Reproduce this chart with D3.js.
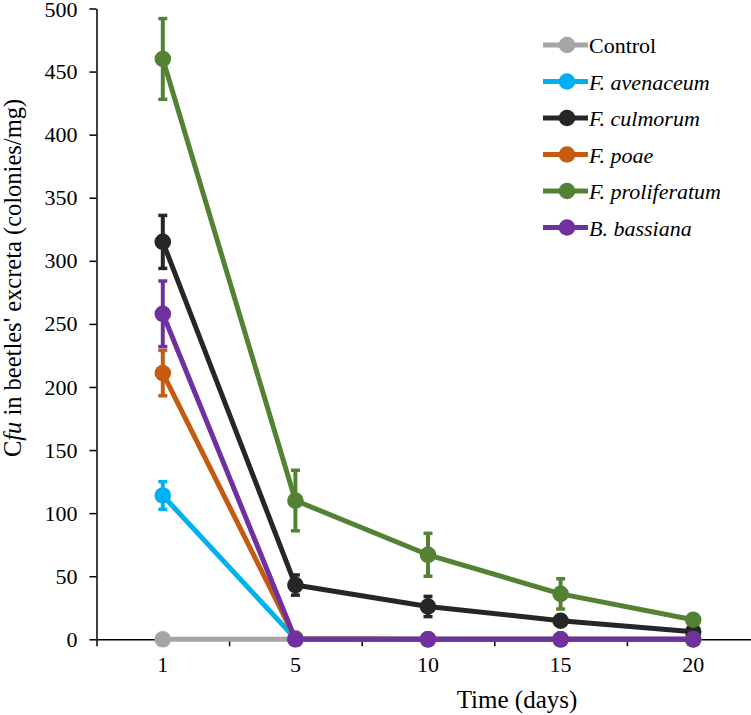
<!DOCTYPE html>
<html>
<head>
<meta charset="utf-8">
<script src="https://cdn.jsdelivr.net/npm/d3@7"></script>
<style>
  body { margin: 0; background: #fff; }
  svg text { font-family: "Liberation Serif", "Times New Roman", Tinos, "DejaVu Serif", serif !important; }
</style>
</head>
<body>
<svg id="chart" width="751" height="715"></svg>
<script>
const days = ['1', '5', '10', '15', '20']

const seriesNames = ['Control', 'F. avenaceum', 'F. culmorum', 'F. poae', 'F. proliferatum', 'B. bassiana']
const seriesItalic = [false, true, true, true, true, true]
const seriesColors = ['#a5a5a5', '#00b0f0', '#262626', '#c55a11', '#548235', '#7030a0']

const control = [0, 0, 0, 0, 0]
const avenaceum = [114, 0.5, 0, 0, 0]
const culmorum = [315, 43, 26, 14.7, 6]
const poae = [211, 0.5, 0, 0, 0]
const proliferatum = [460, 110, 67, 36, 15.5]
const bassiana = [258, 0, 0, 0, 0]

const controlErr = [0, 0, 0, 0, 0]
const avenaceumErr = [11, 0, 0, 0, 0]
const culmorumErr = [21, 8, 8, 3, 1]
const poaeErr = [18, 0, 0, 0, 0]
const proliferatumErr = [32, 24, 17, 12, 2]
const bassianaErr = [26, 0, 0, 0, 0]

const seriesValues = [control, avenaceum, culmorum, poae, proliferatum, bassiana]
const seriesErrors = [controlErr, avenaceumErr, culmorumErr, poaeErr, proliferatumErr, bassianaErr]

const yTicks = d3.range(0, 501, 50)

const FONT = '"Liberation Serif", "Times New Roman", Tinos, "DejaVu Serif", serif'
const svg = d3.select('#chart').attr('font-family', FONT)

const x = d3.scaleBand().domain(days).range([96.5, 759.5]).padding(0)
const xBound = d3.scaleLinear().domain([0, days.length]).range([96.5, 759.5])
const y = d3.scaleLinear().domain([0, 500]).range([639.3, 8.5])
const cx = d => x(d) + x.bandwidth() / 2

// y axis
const yAxis = svg.append('g')
  .attr('transform', 'translate(96.5,0)')
  .call(d3.axisLeft(y).tickValues(yTicks).tickSize(7).tickPadding(12).tickSizeOuter(0))
  .attr('font-family', FONT)
yAxis.select('.domain').attr('stroke', '#000').attr('stroke-width', 1.5)
yAxis.selectAll('.tick line').attr('stroke', '#000').attr('stroke-width', 1.5)
yAxis.selectAll('.tick text').attr('font-size', 22).attr('fill', '#000')
  .attr('dy', d => d === 500 ? '0.38em' : '0.32em')   // top label sits right on the edge

// x axis: boundary ticks
const xAxisTicks = svg.append('g')
  .attr('transform', 'translate(0,639.3)')
  .call(d3.axisBottom(xBound).tickValues(d3.range(0, days.length + 1)).tickSize(7).tickFormat('').tickSizeOuter(0))
xAxisTicks.select('.domain').attr('stroke', '#000').attr('stroke-width', 1.5)
xAxisTicks.selectAll('.tick line').attr('stroke', '#000').attr('stroke-width', 1.5)

// x axis: category labels
const xAxisLabels = svg.append('g')
  .attr('transform', 'translate(0,639.3)')
  .call(d3.axisBottom(x).tickSize(0).tickPadding(17))
  .attr('font-family', FONT)
xAxisLabels.select('.domain').remove()
xAxisLabels.selectAll('.tick text').attr('font-size', 22).attr('fill', '#000')

// axis titles
svg.append('text')
  .attr('x', 517).attr('y', 708)
  .attr('text-anchor', 'middle')
  .attr('font-size', 25)
  .text('Time (days)')

const yTitle = svg.append('text')
  .attr('transform', 'translate(20.5,278) rotate(-90)')
  .attr('text-anchor', 'middle')
  .attr('font-size', 24.5)
yTitle.append('tspan').text('C')
yTitle.append('tspan').attr('font-style', 'italic').text('fu')
yTitle.append('tspan').text(" in beetles' excreta (colonies/mg)")

// series
const line = d3.line().x((v, i) => cx(days[i])).y(v => y(v))

seriesNames.forEach((name, si) => {
  const vals = seriesValues[si]
  const errs = seriesErrors[si]
  const color = seriesColors[si]
  const g = svg.append('g').attr('class', 'series')

  g.append('path')
    .datum(vals)
    .attr('d', line)
    .attr('fill', 'none')
    .attr('stroke', color)
    .attr('stroke-width', 5)
    .attr('stroke-linejoin', 'round')

  const bars = g.selectAll('.err').data(vals.map((v, i) => ({ v, e: errs[i], d: days[i] })).filter(p => p.e > 0))
    .enter().append('g').classed('err', true)
  bars.append('line')
    .attr('x1', p => cx(p.d)).attr('x2', p => cx(p.d))
    .attr('y1', p => y(p.v - p.e)).attr('y2', p => y(p.v + p.e))
    .attr('stroke', color).attr('stroke-width', 4)
  bars.append('line')
    .attr('x1', p => cx(p.d) - 4.5).attr('x2', p => cx(p.d) + 4.5)
    .attr('y1', p => y(p.v + p.e)).attr('y2', p => y(p.v + p.e))
    .attr('stroke', color).attr('stroke-width', 3.5)
  bars.append('line')
    .attr('x1', p => cx(p.d) - 4.5).attr('x2', p => cx(p.d) + 4.5)
    .attr('y1', p => y(p.v - p.e)).attr('y2', p => y(p.v - p.e))
    .attr('stroke', color).attr('stroke-width', 3.5)

  g.selectAll('circle').data(vals).enter().append('circle')
    .attr('cx', (v, i) => cx(days[i]))
    .attr('cy', v => y(v))
    .attr('r', 8.3)
    .attr('fill', color)
})

// legend
const legend = svg.append('g')
const item = legend.selectAll('.item').data(seriesNames).enter().append('g')
  .classed('item', true)
  .attr('transform', (n, i) => `translate(0,${45 + i * 36.5})`)
item.append('line')
  .attr('x1', 543).attr('x2', 588).attr('y1', 0).attr('y2', 0)
  .attr('stroke', (n, i) => seriesColors[i]).attr('stroke-width', 5)
item.append('circle')
  .attr('cx', 567).attr('cy', 0).attr('r', 8.3)
  .attr('fill', (n, i) => seriesColors[i])
item.append('text')
  .attr('x', 589).attr('y', 8)
  .attr('font-size', 22)
  .attr('font-style', (n, i) => seriesItalic[i] ? 'italic' : 'normal')
  .text(n => n)
</script>
</body>
</html>
